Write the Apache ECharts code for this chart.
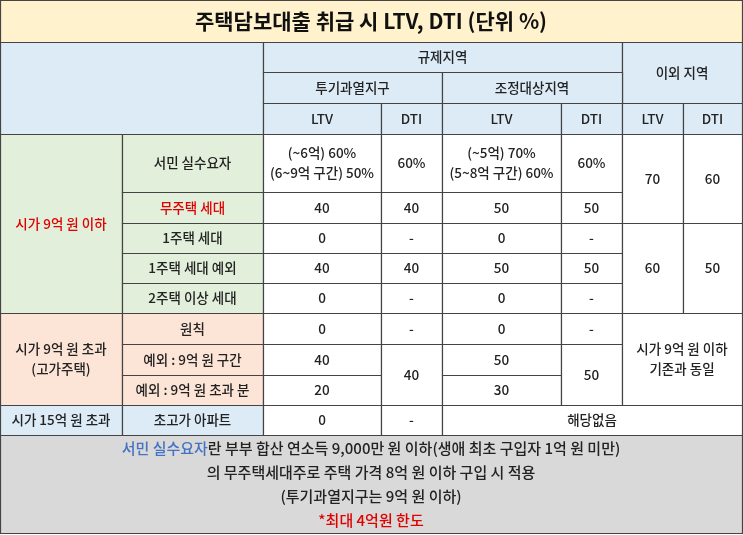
<!DOCTYPE html>
<html><head><meta charset="utf-8">
<script src="https://cdn.jsdelivr.net/npm/echarts@6/dist/echarts.min.js"></script>
<style>html,body{margin:0;padding:0;background:#fff}#c{width:743px;height:535px}</style>
</head><body><div id="c"></div>
<script>
// column and row grid lines (table structure)
var colEdges = [0, 122, 263, 381, 442, 561, 622, 683, 742];
var rowEdges = [0, 42, 72, 103, 134, 192, 223, 253, 283, 313, 344, 375, 405, 435, 533];
var title = '주택담보대출 취급 시 LTV, DTI (단위 %)';
var headerTop = ['규제지역', '이외 지역'];
var headerMid = ['투기과열지구', '조정대상지역'];
var headerLow = ['LTV', 'DTI', 'LTV', 'DTI', 'LTV', 'DTI'];
var groups = ['시가 9억 원 이하', '시가 9억 원 초과\n(고가주택)', '시가 15억 원 초과'];
var subRows = ['서민 실수요자', '무주택 세대', '1주택 세대', '1주택 세대 예외', '2주택 이상 세대', '원칙', '예외 : 9억 원 구간', '예외 : 9억 원 초과 분', '초고가 아파트'];
var specLTV = ['(~6억) 60%\n(6~9억 구간) 50%', '40', '0', '40', '0', '0', '40', '20', '0'];
var specDTI = ['60%', '40', '-', '40', '-', '-', '40', '-'];
var adjLTV = ['(~5억) 70%\n(5~8억 구간) 60%', '50', '0', '50', '0', '0', '50', '30'];
var adjDTI = ['60%', '50', '-', '50', '-', '-', '50'];
var otherLTV = ['70', '60'];
var otherDTI = ['60', '50'];
var otherHigh = '시가 9억 원 이하\n기존과 동일';
var noneText = '해당없음';
var note = ['서민 실수요자', '란 부부 합산 연소득 9,000만 원 이하(생애 최초 구입자 1억 원 미만)', '의 무주택세대주로 주택 가격 8억 원 이하 구입 시 적용', '(투기과열지구는 9억 원 이하)', '*최대 4억원 한도'];

var Y='#FFF2CC', B='#DDEBF7', G='#E2EFDA', P='#FCE4D6', W='#FFFFFF', GR='#D9D9D9';
var cells = [];
function add(c0,c1,r0,r1,t,bg,col,sz,fw){cells.push([c0,c1,r0,r1,t,bg,col||'#222',sz||13.5,fw||'500']);}
add(0,8,0,1,title,Y,'#111',21,'bold');
add(0,2,1,4,'',B);
add(2,6,1,2,headerTop[0],B); add(6,8,1,3,headerTop[1],B);
add(2,4,2,3,headerMid[0],B); add(4,6,2,3,headerMid[1],B);
for(var i=0;i<6;i++) add(2+i,3+i,3,4,headerLow[i],B);
add(0,1,4,9,groups[0],G,'#E00000');
add(0,1,9,12,groups[1],P);
add(0,1,12,13,groups[2],B);
for(var i=0;i<9;i++) add(1,2,4+i,5+i,subRows[i], i<5?G:(i<8?P:B), i==1?'#E00000':'#222');
for(var i=0;i<9;i++) add(2,3,4+i,5+i,specLTV[i],W);
for(var i=0;i<5;i++) add(3,4,4+i,5+i,specDTI[i],W);
add(3,4,9,10,specDTI[5],W); add(3,4,10,12,specDTI[6],W); add(3,4,12,13,specDTI[7],W);
for(var i=0;i<6;i++) add(4,5,4+i,5+i,adjLTV[i],W);
add(4,5,10,11,adjLTV[6],W); add(4,5,11,12,adjLTV[7],W);
for(var i=0;i<6;i++) add(5,6,4+i,5+i,adjDTI[i],W);
add(5,6,10,12,adjDTI[6],W);
add(6,7,4,6,otherLTV[0],W); add(7,8,4,6,otherDTI[0],W);
add(6,7,6,9,otherLTV[1],W); add(7,8,6,9,otherDTI[1],W);
add(6,8,9,12,otherHigh,W);
add(4,8,12,13,noneText,W);
add(0,8,13,14,'{b|'+note[0]+'}'+note[1]+'\n'+note[2]+'\n'+note[3]+'\n{r|'+note[4]+'}',GR,'#222',15);

var chart = echarts.init(document.getElementById('c'));
chart.setOption({
  animation:false,
  grid:{left:0,right:0,top:0,bottom:0},
  xAxis:{type:'value',min:0,max:743,show:false},
  yAxis:{type:'value',min:0,max:535,inverse:true,show:false},
  series:[{
    type:'custom',
    data:cells.map(function(c,i){return [i];}),
    renderItem:function(params,api){
      var c=cells[api.value(0)];
      var p0=api.coord([colEdges[c[0]],rowEdges[c[2]]]);
      var p1=api.coord([colEdges[c[1]],rowEdges[c[3]]]);
      var rs={fontSize:15,fontWeight:500,fontFamily:'Noto Sans CJK KR',lineHeight:24};
      return {type:'group',children:[
        {type:'rect',shape:{x:p0[0]+0.5,y:p0[1]+0.5,width:p1[0]-p0[0],height:p1[1]-p0[1]},
         style:{fill:c[5],stroke:'#444',lineWidth:1.2}},
        {type:'text',x:(p0[0]+p1[0])/2,y:(p0[1]+p1[1])/2,
         style:{text:c[4],align:'center',verticalAlign:'middle',fill:c[6],
           font:c[8]+' '+c[7]+'px "Noto Sans CJK KR"',lineHeight:c[7]>=15?24:20,
           rich:{b:Object.assign({fill:'#4472C4'},rs), r:Object.assign({fill:'#E00000'},rs)}}}
      ]};
    }
  }]
});
</script></body></html>
